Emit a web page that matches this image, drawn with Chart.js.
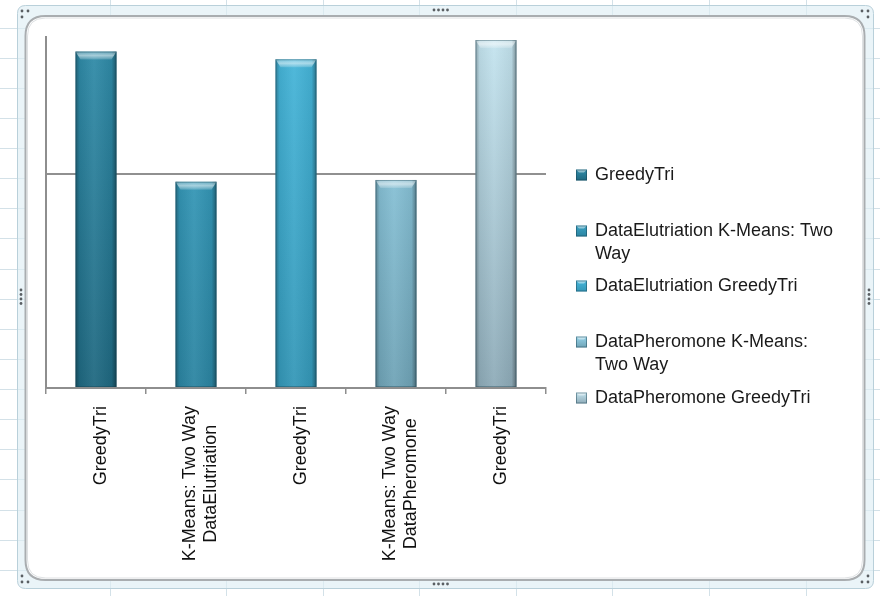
<!DOCTYPE html>
<html>
<head>
<meta charset="utf-8">
<script src="https://cdn.jsdelivr.net/npm/chart.js@4/dist/chart.umd.min.js"></script>
<style>
  html, body { margin: 0; padding: 0; background: #ffffff; }
  #wrap { position: relative; width: 880px; height: 596px; }
  canvas { display: block; }
</style>
</head>
<body>
<div id="wrap"><canvas id="chart" width="880" height="596"></canvas></div>
<script>
// Category labels under each bar (multi-line where the label wraps)
const categories = [
  ["GreedyTri"],
  ["K-Means: Two Way", "DataElutriation"],
  ["GreedyTri"],
  ["K-Means: Two Way", "DataPheromone"],
  ["GreedyTri"]
];

// Legend entries, one per bar
const seriesNames = [
  "GreedyTri",
  "DataElutriation K-Means: Two Way",
  "DataElutriation GreedyTri",
  "DataPheromone K-Means: Two Way",
  "DataPheromone GreedyTri"
];

// Bar values
const values = [1572, 964, 1536, 972, 1626];

// Value axis: range and the single drawn gridline
const axisMin = 0;
const axisMax = 1640;
const gridValues = [0, 1000];

// Bar fill colours (top / bottom of the gradient)
const topColors    = ["#308ca9", "#3aa2c3", "#46b6da", "#95d3e9", "#c4e4ef"];
const bottomColors = ["#1f6880", "#2b84a1", "#3497b7", "#6fa3b6", "#8eabb8"];

const FONT = '"Liberation Sans", Arial, Helvetica, sans-serif';

function barFill(ctx) {
  const chart = ctx.chart;
  const area = chart.chartArea;
  const i = ctx.dataIndex;
  if (!area) return topColors[i];
  const g = chart.ctx.createLinearGradient(0, area.top, 0, area.bottom);
  g.addColorStop(0, topColors[i]);
  g.addColorStop(1, bottomColors[i]);
  return g;
}

// Worksheet grid, chart frame and resize handles behind the chart
const sheetBackground = {
  id: 'sheetBackground',
  beforeDraw(chart) {
    const c = chart.ctx;
    const W = chart.width, H = chart.height;
    c.save();
    c.fillStyle = '#ffffff';
    c.fillRect(0, 0, W, H);

    // worksheet cell lines
    c.strokeStyle = '#d3e1e8';
    c.lineWidth = 1;
    c.beginPath();
    for (let k = 0; k < 20; k++) {
      const y = Math.round(27.5 + 30.13 * k) + 0.5;
      c.moveTo(0, y); c.lineTo(W, y);
    }
    [110, 226, 323, 419, 516, 612, 709, 806].forEach(x => {
      c.moveTo(x + 0.5, 0); c.lineTo(x + 0.5, H);
    });
    c.stroke();

    const rr = (x, y, w, h, r) => {
      c.beginPath();
      c.moveTo(x + r, y);
      c.lineTo(x + w - r, y);
      c.quadraticCurveTo(x + w, y, x + w, y + r);
      c.lineTo(x + w, y + h - r);
      c.quadraticCurveTo(x + w, y + h, x + w - r, y + h);
      c.lineTo(x + r, y + h);
      c.quadraticCurveTo(x, y + h, x, y + h - r);
      c.lineTo(x, y + r);
      c.quadraticCurveTo(x, y, x + r, y);
      c.closePath();
    };
    // outer translucent frame band
    rr(17.5, 5.5, 856, 583, 8);
    c.fillStyle = 'rgba(222,238,244,0.65)';
    c.fill();
    c.strokeStyle = '#b9d0da';
    c.lineWidth = 1;
    c.stroke();

    // inner white chart area with grey border
    rr(25.5, 16, 839, 564, 20);
    c.fillStyle = '#ffffff';
    c.fill();
    c.strokeStyle = '#a9adb0';
    c.lineWidth = 2;
    c.stroke();
    rr(27.5, 18, 835, 560, 18);
    c.strokeStyle = 'rgba(200,205,208,0.6)';
    c.lineWidth = 1;
    c.stroke();

    // resize handle dots
    c.fillStyle = '#5a5f63';
    const dot = (x, y) => { c.beginPath(); c.arc(x, y, 1.4, 0, Math.PI * 2); c.fill(); };
    [[22, 11], [28, 11], [22, 17]].forEach(p => dot(...p));
    [[862, 11], [868, 11], [868, 17]].forEach(p => dot(...p));
    [[22, 576], [22, 582], [28, 582]].forEach(p => dot(...p));
    [[868, 576], [862, 582], [868, 582]].forEach(p => dot(...p));
    for (let k = 0; k < 4; k++) {
      dot(434 + k * 4.5, 10);
      dot(434 + k * 4.5, 584);
      dot(21, 290 + k * 4.5);
      dot(869, 290 + k * 4.5);
    }
    c.restore();
  }
};

// Bevelled look on the bars: darker sides and a light top facet
const barShading = {
  id: 'barShading',
  afterDatasetsDraw(chart) {
    const c = chart.ctx;
    const meta = chart.getDatasetMeta(0);
    c.save();
    meta.data.forEach(bar => {
      const { x, y, base, width } = bar.getProps(['x', 'y', 'base', 'width'], true);
      const l = x - width / 2, r = x + width / 2;
      const g = c.createLinearGradient(l, 0, r, 0);
      g.addColorStop(0, 'rgba(0,0,0,0.30)');
      g.addColorStop(0.1, 'rgba(0,0,0,0.06)');
      g.addColorStop(0.45, 'rgba(255,255,255,0.06)');
      g.addColorStop(0.88, 'rgba(0,0,0,0.06)');
      g.addColorStop(1, 'rgba(0,0,0,0.38)');
      c.fillStyle = g;
      c.fillRect(l, y, width, base - y);

      // top facet
      const bh = 8, inset = 5;
      c.beginPath();
      c.moveTo(l, y);
      c.lineTo(r, y);
      c.lineTo(r - inset, y + bh);
      c.lineTo(l + inset, y + bh);
      c.closePath();
      const tg = c.createLinearGradient(0, y, 0, y + bh);
      tg.addColorStop(0, 'rgba(255,255,255,0.25)');
      tg.addColorStop(0.5, 'rgba(255,255,255,0.55)');
      tg.addColorStop(1, 'rgba(255,255,255,0.15)');
      c.fillStyle = tg;
      c.fill();

      // thin dark outline
      c.strokeStyle = 'rgba(20,60,75,0.35)';
      c.lineWidth = 1;
      c.strokeRect(l + 0.5, y + 0.5, width - 1, base - y - 1);
    });
    c.restore();
  }
};

// Rotated category labels, lines centred on each other
const categoryLabels = {
  id: 'categoryLabels',
  afterDraw(chart) {
    const c = chart.ctx;
    const xs = chart.scales.x;
    const topY = chart.chartArea.bottom + 18;
    const lineH = 21;
    c.save();
    c.font = '18px ' + FONT;
    c.fillStyle = '#111111';
    c.textBaseline = 'middle';
    c.textAlign = 'center';
    chart.data.labels.forEach((lines, i) => {
      const px = xs.getPixelForValue(i) + 5;
      const blockW = Math.max(...lines.map(s => c.measureText(s).width));
      c.save();
      c.translate(px, topY);
      c.rotate(-Math.PI / 2);
      lines.forEach((s, j) => {
        const off = (j - (lines.length - 1) / 2) * lineH;
        c.fillText(s, -blockW / 2, off);
      });
      c.restore();
    });
    c.restore();
  }
};

// Legend on the right with wrapped entries
const sideLegend = {
  id: 'sideLegend',
  afterDraw(chart) {
    const c = chart.ctx;
    const rowY = [175, 231, 286, 342, 398];
    const textX = 595, markX = 576, markS = 11, lineH = 23, maxW = 246;
    c.save();
    c.font = '18px ' + FONT;
    c.textBaseline = 'middle';
    c.textAlign = 'left';
    seriesNames.forEach((name, i) => {
      // wrap words to the legend width
      const words = name.split(' ');
      const lines = [];
      let cur = '';
      words.forEach(w => {
        const t = cur ? cur + ' ' + w : w;
        if (c.measureText(t).width > maxW && cur) { lines.push(cur); cur = w; }
        else cur = t;
      });
      if (cur) lines.push(cur);
      const y = rowY[i];
      // marker
      const mg = c.createLinearGradient(0, y - markS / 2, 0, y + markS / 2);
      mg.addColorStop(0, topColors[i]);
      mg.addColorStop(1, bottomColors[i]);
      c.fillStyle = mg;
      c.fillRect(markX, y - markS / 2, markS, markS);
      c.fillStyle = 'rgba(255,255,255,0.45)';
      c.beginPath();
      c.moveTo(markX, y - markS / 2);
      c.lineTo(markX + markS, y - markS / 2);
      c.lineTo(markX + markS - 3, y - markS / 2 + 3);
      c.lineTo(markX + 3, y - markS / 2 + 3);
      c.closePath();
      c.fill();
      c.strokeStyle = 'rgba(20,60,75,0.45)';
      c.lineWidth = 1;
      c.strokeRect(markX + 0.5, y - markS / 2 + 0.5, markS - 1, markS - 1);
      c.fillStyle = '#1a1a1a';
      lines.forEach((s, j) => c.fillText(s, textX, y + j * lineH));
    });
    c.restore();
  }
};

new Chart(document.getElementById('chart'), {
  type: 'bar',
  data: {
    labels: categories,
    datasets: [{
      label: 'Values',
      data: values,
      backgroundColor: barFill,
      borderWidth: 0,
      barPercentage: 0.41,
      categoryPercentage: 1.0
    }]
  },
  options: {
    responsive: false,
    animation: false,
    events: [],
    layout: { padding: { left: 46, top: 37, right: 334, bottom: 202 } },
    plugins: {
      legend: { display: false },
      tooltip: { enabled: false }
    },
    scales: {
      x: {
        grid: {
          display: true,
          drawOnChartArea: false,
          drawTicks: true,
          tickLength: 6,
          offset: true,
          color: '#8e8e8e',
          lineWidth: 1.5
        },
        border: { display: true, color: '#8e8e8e', width: 2 },
        ticks: { display: false }
      },
      y: {
        min: axisMin,
        max: axisMax,
        afterBuildTicks(scale) {
          scale.ticks = gridValues.map(v => ({ value: v }));
        },
        grid: { color: '#909090', lineWidth: 2, drawTicks: false },
        border: { display: true, color: '#8e8e8e', width: 2 },
        ticks: { display: false }
      }
    }
  },
  plugins: [sheetBackground, barShading, categoryLabels, sideLegend]
});
</script>
</body>
</html>
